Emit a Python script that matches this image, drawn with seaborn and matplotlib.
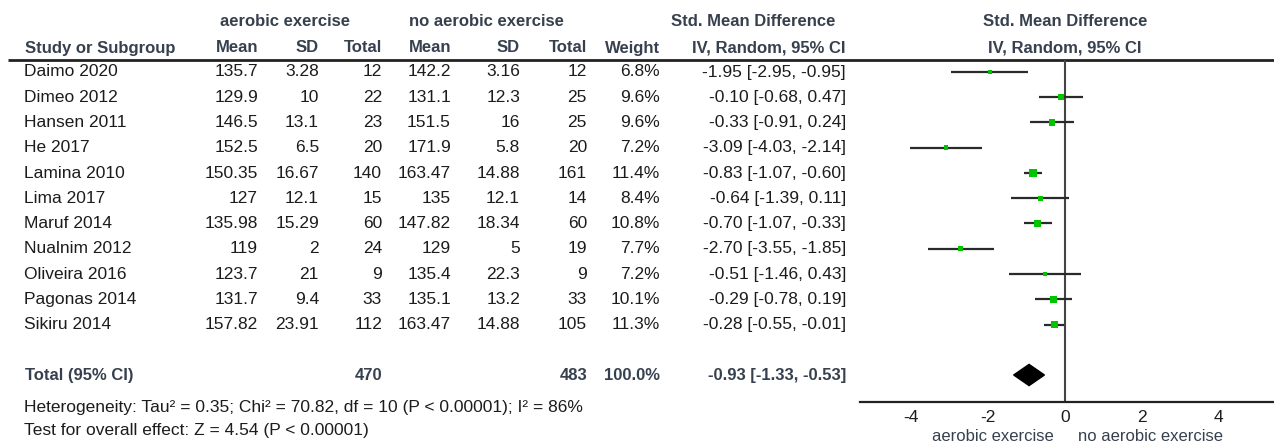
import matplotlib
matplotlib.use("Agg")
import matplotlib.pyplot as plt
import seaborn as sns
import pandas as pd
import numpy as np

# data
studies = ["Daimo 2020", "Dimeo 2012", "Hansen 2011", "He 2017", "Lamina 2010", "Lima 2017",
           "Maruf 2014", "Nualnim 2012", "Oliveira 2016", "Pagonas 2014", "Sikiru 2014"]
ae_mean = [135.7, 129.9, 146.5, 152.5, 150.35, 127, 135.98, 119, 123.7, 131.7, 157.82]
ae_sd = [3.28, 10, 13.1, 6.5, 16.67, 12.1, 15.29, 2, 21, 9.4, 23.91]
ae_n = [12, 22, 23, 20, 140, 15, 60, 24, 9, 33, 112]
no_mean = [142.2, 131.1, 151.5, 171.9, 163.47, 135, 147.82, 129, 135.4, 135.1, 163.47]
no_sd = [3.16, 12.3, 16, 5.8, 14.88, 12.1, 18.34, 5, 22.3, 13.2, 14.88]
no_n = [12, 25, 25, 20, 161, 14, 60, 19, 9, 33, 105]
weight = [6.8, 9.6, 9.6, 7.2, 11.4, 8.4, 10.8, 7.7, 7.2, 10.1, 11.3]
smd = [-1.95, -0.10, -0.33, -3.09, -0.83, -0.64, -0.70, -2.70, -0.51, -0.29, -0.28]
ci_lo = [-2.95, -0.68, -0.91, -4.03, -1.07, -1.39, -1.07, -3.55, -1.46, -0.78, -0.55]
ci_hi = [-0.95, 0.47, 0.24, -2.14, -0.60, 0.11, -0.33, -1.85, 0.43, 0.19, -0.01]
total_ae_n = 470
total_no_n = 483
total_weight = 100.0
total_smd, total_lo, total_hi = -0.93, -1.33, -0.53
het_text = "Heterogeneity: Tau\u00b2 = 0.35; Chi\u00b2 = 70.82, df = 10 (P < 0.00001); I\u00b2 = 86%"
test_text = "Test for overall effect: Z = 4.54 (P < 0.00001)"
xticks = [-4, -2, 0, 2, 4]

df = pd.DataFrame({"study": studies, "smd": smd, "lo": ci_lo, "hi": ci_hi, "w": weight})
df["row"] = np.arange(len(df))
total_row = len(df) + 1

sns.set_style("white")
plt.rcParams["font.family"] = ["Liberation Sans", "DejaVu Sans"]

W, H = 1274, 444
fig = plt.figure(figsize=(W / 100, H / 100), dpi=100)
fig.patch.set_facecolor("white")

# table part, pixel coordinates
tx = fig.add_axes([0, 0, 1, 1])
tx.set_xlim(0, W)
tx.set_ylim(H, 0)
tx.axis("off")

hdr_col = "#36404e"
txt_col = "#1c1c1c"
fs = 12.5
left = 24

def row_y(i):
    return 72 + 25.25 * i

def hdr(x, y, s, ha="right"):
    tx.text(x, y, s, ha=ha, va="center", fontsize=12, fontweight="bold", color=hdr_col)

cols = [258, 319, 382, 451, 520, 587, 660, 846]
hdr(285, 22, "aerobic exercise", "center")
hdr(486, 22, "no aerobic exercise", "center")
hdr(753, 22, "Std. Mean Difference", "center")
hdr(1065, 22, "Std. Mean Difference", "center")
hdr(left + 1, 48, "Study or Subgroup", "left")
for x, s in zip(cols, ["Mean", "SD", "Total", "Mean", "SD", "Total", "Weight", "IV, Random, 95% CI"]):
    hdr(x, 48, s)
hdr(1065, 48, "IV, Random, 95% CI", "center")
tx.plot([8, W], [60, 60], color="#222222", lw=2, solid_capstyle="butt")

for i in range(len(studies)):
    y = row_y(i)
    tx.text(left, y, studies[i], ha="left", va="center", fontsize=fs, color=txt_col)
    vals = [f"{ae_mean[i]:g}", f"{ae_sd[i]:g}", str(ae_n[i]),
            f"{no_mean[i]:g}", f"{no_sd[i]:g}", str(no_n[i]),
            f"{weight[i]:.1f}%", f"{smd[i]:.2f} [{ci_lo[i]:.2f}, {ci_hi[i]:.2f}]"]
    for x, s in zip(cols, vals):
        tx.text(x, y, s, ha="right", va="center", fontsize=fs, color=txt_col)

yt = row_y(total_row)
hdr(left + 1, yt, "Total (95% CI)", "left")
hdr(cols[2], yt, str(total_ae_n))
hdr(cols[5], yt, str(total_no_n))
hdr(cols[6], yt, f"{total_weight:.1f}%")
hdr(cols[7], yt, f"{total_smd:.2f} [{total_lo:.2f}, {total_hi:.2f}]")

tx.text(left, 407, het_text, ha="left", va="center", fontsize=fs, color=txt_col)
tx.text(left, 430, test_text, ha="left", va="center", fontsize=fs, color=txt_col)

tx.text(993, 443.5, "aerobic exercise", ha="center", va="bottom", fontsize=12, color=hdr_col)
tx.text(1150, 443.5, "no aerobic exercise", ha="center", va="bottom", fontsize=12, color=hdr_col)

# forest part
x0, x1, ytop, ybot = 860, 1274, 60, 402
ax = fig.add_axes([x0 / W, (H - ybot) / H, (x1 - x0) / W, (ybot - ytop) / H])
ax.patch.set_alpha(0)
ax.set_xlim(-5.32, 5.43)
ax.set_ylim((ybot - 72) / 25.25, (ytop - 72) / 25.25)

ax.axvline(0, color="#444444", lw=1.5, zorder=1)
ax.hlines(df["row"], df["lo"], df["hi"], color="#2a2a2a", lw=1.6, zorder=2)
sns.scatterplot(data=df, x="smd", y="row", size="w", sizes=(9, 27), size_norm=(6.8, 11.4),
                marker="s", color="#00c400", linewidth=0, legend=False, ax=ax, zorder=3)
dh = 0.42
ax.fill([total_lo, total_smd, total_hi, total_smd],
        [total_row, total_row - dh, total_row, total_row + dh], color="black", zorder=3)

for s in ["top", "left", "right"]:
    ax.spines[s].set_visible(False)
ax.spines["bottom"].set_linewidth(1.6)
ax.spines["bottom"].set_color("#222222")
ax.set_yticks([])
ax.set_xticks(xticks)
ax.set_xticklabels([str(t) for t in xticks])
ax.tick_params(axis="x", direction="inout", length=10, width=1.6, color="#222222",
               labelsize=12.5, pad=1, labelcolor=txt_col)
ax.set_xlabel("")
ax.set_ylabel("")

fig.savefig("out.png", dpi=100)
